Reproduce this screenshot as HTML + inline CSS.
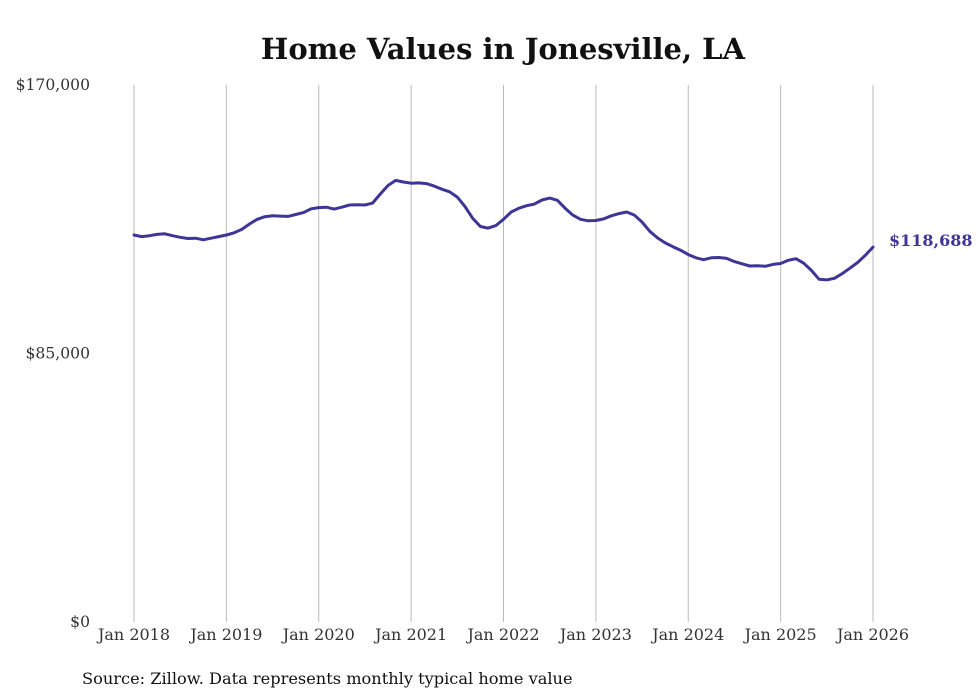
<!DOCTYPE html>
<html><head><meta charset="utf-8"><style>
body{margin:0;background:#fff;}
svg{display:block;font-family:"DejaVu Serif","Liberation Serif",serif;}
</style></head><body>
<svg id="chart" width="980" height="699" viewBox="0 0 980 699">
<text x="503" y="59" text-anchor="middle" font-size="29" font-weight="bold" fill="#111">Home Values in Jonesville, LA</text>
<g id="grid"></g>
<g id="yaxis"></g>
<g id="xaxis"></g>
<g id="series"></g>
<text x="82" y="684" font-size="16.2" fill="#111">Source: Zillow. Data represents monthly typical home value</text>
</svg>
<script>
const yTicks=[0,85000,170000];
const yTickLabels=["$0","$85,000","$170,000"];
const xTickYears=[2018,2019,2020,2021,2022,2023,2024,2025,2026];
const xTickLabels=["Jan 2018","Jan 2019","Jan 2020","Jan 2021","Jan 2022","Jan 2023","Jan 2024","Jan 2025","Jan 2026"];
const startYear=2018;
const values=[
122.5,122.0,122.3,122.7,122.9,122.3,121.8,121.4,121.5,121.0,121.5,122.0,
122.5,123.2,124.3,126.0,127.5,128.3,128.6,128.5,128.4,129.0,129.6,130.8,
131.2,131.3,130.7,131.3,132.0,132.1,132.0,132.6,135.5,138.2,139.8,139.3,
138.9,139.0,138.8,138.0,137.0,136.2,134.5,131.5,127.8,125.2,124.7,125.5,
127.5,129.8,131.0,131.8,132.3,133.6,134.2,133.5,131.0,128.8,127.5,127.0,
127.1,127.6,128.6,129.3,129.8,128.8,126.6,123.7,121.6,120.0,118.8,117.7,
116.3,115.3,114.7,115.3,115.4,115.1,114.1,113.4,112.7,112.8,112.6,113.2,
113.5,114.5,115.0,113.6,111.3,108.5,108.3,108.8,110.3,112.0,113.8,116.1,
118.688];
const lastLabel="$118,688";
const NS="http://www.w3.org/2000/svg";
const x0=134,x1=873,yTop=85,yBot=622;
function xs(m){return x0+(x1-x0)*m/96;}
function ys(v){return yBot-(yBot-yTop)*v/170000;}
function mk(t,a,p){const e=document.createElementNS(NS,t);for(const k in a)e.setAttribute(k,a[k]);p.appendChild(e);return e;}
const grid=document.getElementById('grid'),xa=document.getElementById('xaxis'),ya=document.getElementById('yaxis'),se=document.getElementById('series');
xTickYears.forEach((yr,i)=>{
  const x=xs((yr-startYear)*12);
  const l=mk('line',{x1:x,x2:x,y1:yTop,y2:yBot,stroke:'#bbb','stroke-width':1},grid);
  
  
  const t=mk('text',{x:x,y:640,'text-anchor':'middle','font-size':16,fill:'#333'},xa);
  t.textContent=xTickLabels[i];
  
  
});
yTicks.forEach((v,i)=>{
  const t=mk('text',{x:90,y:ys(v)+5,'text-anchor':'end','font-size':15.6,fill:'#333'},ya);
  t.textContent=yTickLabels[i];
  
  
});
const d=values.map((v,i)=>(i?'L':'M')+xs(i).toFixed(1)+','+ys(v*1000).toFixed(1)).join(' ');
const p=mk('path',{d:d,fill:'none',stroke:'#3d3696','stroke-width':3,'stroke-linejoin':'round','stroke-linecap':'round'},se);


const li=values.length-1;
const lt=mk('text',{x:xs(li)+16,y:ys(values[li]*1000)-1,'font-size':16,'font-weight':'bold',fill:'#3d3696'},se);
lt.textContent=lastLabel;


</script>
</body></html>
